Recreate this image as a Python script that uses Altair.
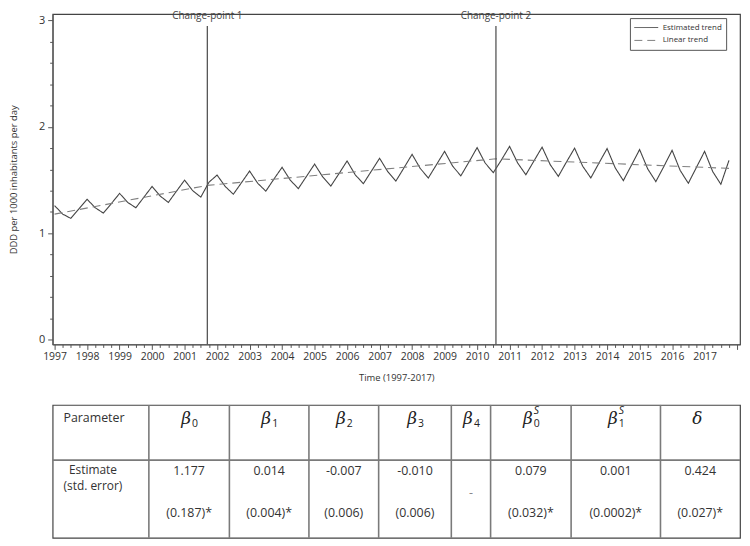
import altair as alt
import pandas as pd

# ---------------- data ----------------
years = list(range(1997, 2018))
# Estimated trend, one value per quarter (Q1 peak, Q2, Q3 trough, Q4)
est_q1 = [1.26, 1.32, 1.375, 1.44, 1.50, 1.547, 1.585, 1.62, 1.65, 1.68, 1.705,
          1.742, 1.77, 1.805, 1.817, 1.81, 1.80, 1.796, 1.787, 1.78, 1.77]
est_q2 = [1.18, 1.24, 1.29, 1.35, 1.40, 1.44, 1.47, 1.50, 1.53, 1.55, 1.58,
          1.61, 1.63, 1.66, 1.66, 1.645, 1.63, 1.615, 1.605, 1.59, 1.58]
est_q3 = [1.14, 1.19, 1.24, 1.29, 1.34, 1.367, 1.396, 1.42, 1.444, 1.466, 1.49,
          1.52, 1.54, 1.57, 1.55, 1.535, 1.52, 1.495, 1.486, 1.47, 1.46]
est_q4 = [1.23, 1.28, 1.34, 1.395, 1.48, 1.475, 1.51, 1.535, 1.56, 1.585, 1.615,
          1.645, 1.67, 1.69, 1.68, 1.67, 1.66, 1.64, 1.63, 1.62, 1.685]

# Linear (segmented) trend break points
lin_time = [1997.0, 2001.70, 2010.58, 2017.75]
lin_value = [1.18, 1.45, 1.70, 1.61]

cp_time = [2001.70, 2010.58]
cp_labels = ["Change-point 1", "Change-point 2"]

series_names = ["Estimated trend", "Linear trend"]

# table contents
tab_symbol = ["β", "β", "β", "β", "β", "β", "β", "δ"]
tab_sub = ["0", "1", "2", "3", "4", "0", "1", ""]
tab_sup = ["", "", "", "", "", "S", "S", ""]
tab_estimate = ["1.177", "0.014", "-0.007", "-0.010", "", "0.079", "0.001", "0.424"]
tab_stderr = ["(0.187)*", "(0.004)*", "(0.006)", "(0.006)", "", "(0.032)*", "(0.0002)*", "(0.027)*"]
tab_missing = ["", "", "", "", "-", "", "", ""]

# ---------------- layout constants ----------------
FONT = "Open Sans"
W, H = 693, 333
TW, TH = 693, 134
col_edges = [0, 98, 180, 261, 332, 406, 446, 528, 619, 700]   # table units
ROW_DIV = 59
TAB_H = 142

# ---------------- build tables ----------------
rows = []
for i, yr in enumerate(years):
    for k, arr in enumerate((est_q1, est_q2, est_q3, est_q4)):
        rows.append({"t": yr + k / 4, "v": arr[i], "series": series_names[0]})
for t, v in zip(lin_time, lin_value):
    rows.append({"t": t, "v": v, "series": series_names[1]})
df = pd.DataFrame(rows)
cp_df = pd.DataFrame({"t": cp_time, "label": cp_labels})

centers = [(col_edges[i + 1] + col_edges[i + 2]) / 2 for i in range(len(tab_symbol))]
tab_df = pd.DataFrame({
    "xc": centers, "sym": tab_symbol, "sub": tab_sub, "sup": tab_sup,
    "est": tab_estimate, "se": tab_stderr, "miss": tab_missing,
})

# ---------------- main plot ----------------
is_int = "abs(datum.value - round(datum.value)) < 0.01"
x_ticks = [round(1997 + i * 0.25, 2) for i in range(85)]
y_ticks = [round(i * 0.2, 1) for i in range(16)]

x_scale = alt.Scale(domain=[1996.94, 2018.09], nice=False, zero=False)
y_scale = alt.Scale(domain=[-0.045, 3.06], nice=False, zero=False)

x_axis = alt.Axis(
    values=x_ticks,
    labelExpr=f"({is_int} && datum.value < 2017.5) ? format(datum.value, 'd') : ''",
    tickSize={"condition": {"test": is_int, "value": 5}, "value": 3},
    labelOverlap=False, labelFlush=False, grid=False,
    labelFontSize=10.5, labelPadding=2, titleFontSize=9.5, titlePadding=11,
    title="Time (1997-2017)",
)
y_axis = alt.Axis(
    values=y_ticks,
    labelExpr=f"{is_int} ? format(datum.value, 'd') : ''",
    tickSize={"condition": {"test": is_int, "value": 5}, "value": 3},
    labelOverlap=False, labelFlush=False, grid=False,
    labelFontSize=11, labelPadding=3, titleFontSize=9.5, titlePadding=20,
    title="DDD per 1000 inhabitants per day",
)

X = alt.X("t:Q", scale=x_scale, axis=x_axis)

legend = alt.Legend(
    title=None, orient="none", legendX=W - 111, legendY=4,
    strokeColor="#555", fillColor="white", padding=4,
    symbolType="stroke", symbolSize=576, symbolStrokeWidth=1,
    labelFontSize=8, labelFont=FONT, labelColor="#333", rowPadding=2,
    labelOffset=4, clipHeight=11,
)

lines = alt.Chart(df).mark_line(strokeWidth=1.1).encode(
    x=X,
    y=alt.Y("v:Q", scale=y_scale, axis=y_axis),
    color=alt.Color("series:N", scale=alt.Scale(domain=series_names, range=["#444444", "#808080"]), legend=legend),
    strokeDash=alt.StrokeDash("series:N", scale=alt.Scale(domain=series_names, range=[[1, 0], [8, 5]]), legend=legend),
)

rules = alt.Chart(cp_df).mark_rule(color="#555555", strokeWidth=1.3).encode(
    x=X, y=alt.value(12), y2=alt.value(H)
)
cp_text = alt.Chart(cp_df).mark_text(fontSize=10, color="#444444", font=FONT, baseline="middle").encode(
    x=X, y=alt.value(2), text="label:N"
)

main = alt.layer(lines, rules, cp_text).properties(width=W, height=H)

# ---------------- table ----------------
tx = alt.Scale(domain=[0, 700], nice=False, zero=False)
ty = alt.Scale(domain=[0, TAB_H], nice=False, zero=False, reverse=True)

vlines = alt.Chart(pd.DataFrame({"x": col_edges[1:-1]})).mark_rule(color="#7a7a7a", strokeWidth=1.6).encode(
    x=alt.X("x:Q", scale=tx, axis=None)
)
hline = alt.Chart(pd.DataFrame({"y": [ROW_DIV]})).mark_rule(color="#7a7a7a", strokeWidth=1.6).encode(
    y=alt.Y("y:Q", scale=ty, axis=None)
)

label_df = pd.DataFrame({
    "x": [11, 41, 41], "y": [14, 70, 87],
    "text": ["Parameter", "Estimate", "(std. error)"],
})
lab_left = alt.Chart(label_df.iloc[[0]]).mark_text(align="left", fontSize=12.5, color="#333", font=FONT).encode(
    x=alt.X("x:Q", scale=tx, axis=None), y=alt.Y("y:Q", scale=ty, axis=None), text="text:N")
lab_center = alt.Chart(label_df.iloc[[1, 2]]).mark_text(align="center", fontSize=12, color="#333", font=FONT).encode(
    x=alt.X("x:Q", scale=tx, axis=None), y=alt.Y("y:Q", scale=ty, axis=None), text="text:N")

TX = alt.X("xc:Q", scale=tx, axis=None)
sym = alt.Chart(tab_df).mark_text(align="center", fontSize=17, fontStyle="italic", font="DejaVu Serif",
                                  color="#222", dx=-3).encode(
    x=TX, y=alt.Y("y:Q", scale=ty, axis=None), text="sym:N"
).transform_calculate(y="15")
sub = alt.Chart(tab_df).mark_text(align="left", fontSize=10.5, font=FONT, color="#222", dx=3, dy=5).encode(
    x=TX, y=alt.Y("y:Q", scale=ty, axis=None), text="sub:N"
).transform_calculate(y="15")
sup = alt.Chart(tab_df).mark_text(align="left", fontSize=10.5, fontStyle="italic", font=FONT, color="#222", dx=3, dy=-8).encode(
    x=TX, y=alt.Y("y:Q", scale=ty, axis=None), text="sup:N"
).transform_calculate(y="15")
est = alt.Chart(tab_df).mark_text(align="center", fontSize=12.5, font=FONT, color="#333").encode(
    x=TX, y=alt.Y("y:Q", scale=ty, axis=None), text="est:N"
).transform_calculate(y="71")
se = alt.Chart(tab_df).mark_text(align="center", fontSize=12.5, font=FONT, color="#333").encode(
    x=TX, y=alt.Y("y:Q", scale=ty, axis=None), text="se:N"
).transform_calculate(y="115")
miss = alt.Chart(tab_df).mark_text(align="center", fontSize=12.5, font=FONT, color="#888").encode(
    x=TX, y=alt.Y("y:Q", scale=ty, axis=None), text="miss:N"
).transform_calculate(y="94")

table = alt.layer(vlines, hline, lab_left, lab_center, sym, sub, sup, est, se, miss).properties(width=TW, height=TH)

chart = alt.vconcat(main, table, spacing=20).properties(padding=0).configure(
    font=FONT
).configure_view(
    stroke="#444444", strokeWidth=1.2
).configure_axis(
    labelColor="#333333", titleColor="#333333", tickColor="#555555",
    domainColor="#555555", labelFont=FONT, titleFont=FONT, titleFontWeight="normal",
)

chart.save("out.html", embed_options={"renderer": "svg", "actions": False})
